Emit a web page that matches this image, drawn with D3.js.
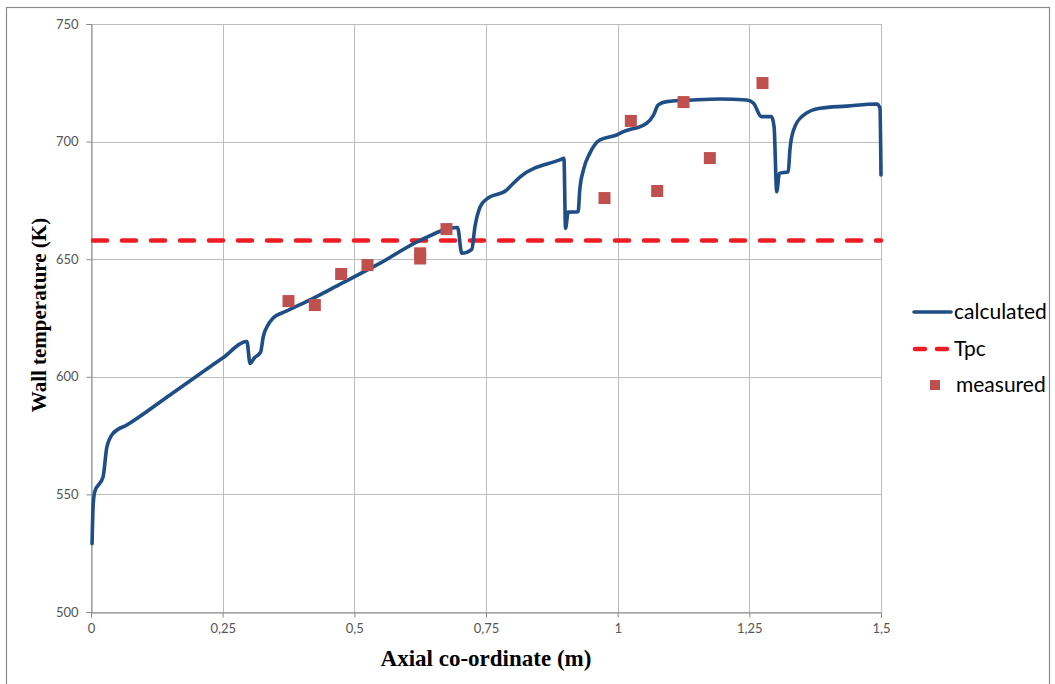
<!DOCTYPE html>
<html>
<head>
<meta charset="utf-8">
<script src="https://cdn.jsdelivr.net/npm/d3@7"></script>
<style>
  html, body { margin: 0; padding: 0; background: #fff; }
  svg { display: block; }
</style>
</head>
<body>
<svg id="chart" width="1055" height="684"></svg>
<script>
// ---------- data ----------
const calcX = [0.002,0.004,0.007,0.023,0.030,0.042,0.068,0.15,0.25,0.296,0.302,0.310,0.322,0.327,0.336,0.346,0.372,0.416,0.475,0.549,0.625,0.696,0.704,0.723,0.729,0.739,0.751,0.789,0.802,0.815,0.890,0.898,0.901,0.906,0.925,0.928,0.935,0.947,0.966,0.998,1.011,1.055,1.068,1.077,1.093,1.144,1.194,1.245,1.258,1.273,1.292,1.297,1.302,1.307,1.324,1.327,1.334,1.353,1.384,1.435,1.492,1.498,1.500];
const calcT = [529,545,551,557.5,570,576,579.5,592.3,608,615,605.7,608,610.5,617,622,625,628,632.7,639.6,648.3,658,663.5,652.5,654.2,663.8,672.3,675.5,679.4,682.3,685,692.2,692.9,663.1,670,670.2,679.4,688,695,700.7,702.8,704.2,707.8,711.3,715.6,717,717.7,718.1,717.7,716.3,710.6,710.6,706.3,678.7,686.5,687.2,696.4,704.9,711.3,714.2,715.1,716,714.2,685.8];
const measX = [0.375,0.425,0.475,0.525,0.625,0.625,0.675,0.975,1.025,1.075,1.125,1.175,1.275];
const measT = [632.2,630.5,643.7,647.5,652.5,650.3,662.8,676.0,708.8,679.0,716.8,693.0,724.9];
const tpcT = 658;
const xTicks = [0,0.25,0.5,0.75,1,1.25,1.5];
const xTickLabels = ["0","0,25","0,5","0,75","1","1,25","1,5"];
const yTicks = [500,550,600,650,700,750];
const seriesNames = ["calculated","Tpc","measured"];

// ---------- layout ----------
const svg = d3.select("#chart");
const L = 91, R = 881, T = 24, B = 612;
const x = d3.scaleLinear().domain([0,1.5]).range([L,R]);
const y = d3.scaleLinear().domain([500,750]).range([B,T]);

const blue = "#1f4e86", red = "#ee1c25", mred = "#c0504d";

// outer frame
svg.append("rect").attr("x",6.5).attr("y",7.5).attr("width",1043).attr("height",700)
  .attr("fill","none").attr("stroke","#8c8c8c").attr("stroke-width",1.2);

// grid
const g = svg.append("g");
g.selectAll(".hg").data(yTicks).enter().append("line")
  .attr("x1",L).attr("x2",R).attr("y1",d=>Math.round(y(d))+0.5).attr("y2",d=>Math.round(y(d))+0.5)
  .attr("stroke","#bdbdbd").attr("stroke-width",1);
g.selectAll(".vg").data(xTicks).enter().append("line")
  .attr("y1",T).attr("y2",B).attr("x1",d=>Math.round(x(d))+0.5).attr("x2",d=>Math.round(x(d))+0.5)
  .attr("stroke","#bdbdbd").attr("stroke-width",1);

// axes
const xAxis = d3.axisBottom(x).tickValues(xTicks).tickFormat((d,i)=>xTickLabels[i]).tickSizeOuter(0).tickSize(5).tickPadding(6);
const yAxis = d3.axisLeft(y).tickValues(yTicks).tickSizeOuter(0).tickSize(5).tickPadding(8);
const gx = svg.append("g").attr("transform",`translate(0,${Math.round(B)+0.5})`).call(xAxis);
const gy = svg.append("g").attr("transform",`translate(${Math.round(L)+0.5},0)`).call(yAxis);
[gx,gy].forEach(a=>{
  a.select(".domain").attr("stroke","#8a8a8a");
  a.selectAll(".tick line").attr("stroke","#8a8a8a");
  a.selectAll(".tick text").attr("fill","#555").style("font-family","Lato, 'Open Sans', sans-serif").style("font-size","13px");
});

// Tpc line
svg.append("line").attr("x1",x(0)+2).attr("x2",x(1.5)).attr("y1",y(tpcT)).attr("y2",y(tpcT))
  .attr("stroke",red).attr("stroke-width",4.5).attr("stroke-dasharray","14,15").attr("stroke-linecap","round");

// calculated line
const pts = calcX.map((d,i)=>[d,calcT[i]]);
const line = d3.line().x(d=>x(d[0])).y(d=>y(d[1])).curve(d3.curveMonotoneX);
svg.append("path").datum(pts).attr("d",line).attr("fill","none")
  .attr("stroke",blue).attr("stroke-width",3.6).attr("stroke-linejoin","round").attr("stroke-linecap","round");

// measured points
const ms = 12;
svg.selectAll(".m").data(measX.map((d,i)=>[d,measT[i]])).enter().append("rect")
  .attr("x",d=>x(d[0])-ms/2).attr("y",d=>y(d[1])-ms/2).attr("width",ms).attr("height",ms)
  .attr("fill",mred);

// axis titles
svg.append("text").attr("x",486).attr("y",666).attr("text-anchor","middle")
  .style("font-family","'Liberation Serif','Times New Roman',serif").style("font-weight","bold").style("font-size","23px")
  .attr("fill","#000").text("Axial co-ordinate (m)");
svg.append("text").attr("transform",`translate(46,${315}) rotate(-90)`).attr("text-anchor","middle")
  .style("font-family","'Liberation Serif','Times New Roman',serif").style("font-weight","bold").style("font-size","21px")
  .attr("fill","#000").text("Wall temperature (K)");

// legend
const lg = svg.append("g").style("font-family","Lato, 'Open Sans', sans-serif").style("font-size","21px");
const ly = [312, 349, 385];
lg.append("line").attr("x1",914).attr("x2",951).attr("y1",ly[0]).attr("y2",ly[0]).attr("stroke",blue).attr("stroke-width",3.6).attr("stroke-linecap","round");
lg.append("line").attr("x1",915).attr("x2",951).attr("y1",ly[1]).attr("y2",ly[1]).attr("stroke",red).attr("stroke-width",4.5).attr("stroke-dasharray","10,12").attr("stroke-linecap","round");
lg.append("rect").attr("x",935-ms/2+1).attr("y",ly[2]-ms/2+1).attr("width",ms-2).attr("height",ms-2).attr("fill",mred);
const lx = [954, 954, 956];
seriesNames.forEach((n,i)=>{
  lg.append("text").attr("x",lx[i]).attr("y",ly[i]).attr("dy","0.35em").attr("fill","#000").text(n);
});
</script>
</body>
</html>
